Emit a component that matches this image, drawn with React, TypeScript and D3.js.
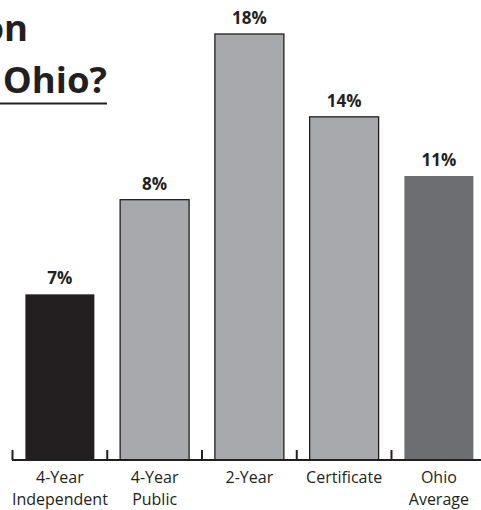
import React from 'react';
import * as d3 from 'd3';

// chart data
const categories = ['4-Year Independent', '4-Year Public', '2-Year', 'Certificate', 'Ohio Average'];
const categoryLines = [['4-Year', 'Independent'], ['4-Year', 'Public'], ['2-Year'], ['Certificate'], ['Ohio', 'Average']];
const barValues = [7, 11, 18, 14.5, 12];
const valueLabels = ['7%', '8%', '18%', '14%', '11%'];
const titleLines = ['on', 'Ohio?'];

const barFills = ['#231f20', '#a7a9ac', '#a7a9ac', '#a7a9ac', '#6d6e71'];
const outlined = [false, true, true, true, false];

const WIDTH = 481;
const HEIGHT = 510;
const BASE_Y = 460;
const INK = '#231f20';
const FONT = '"Open Sans", "DejaVu Sans", sans-serif';

export default function App() {
    const x = d3.scaleBand<string>()
        .domain(categories)
        .range([12.5, 486.25])
        .paddingInner(0.272)
        .paddingOuter(0.136);

    const y = d3.scaleLinear()
        .domain([0, 18])
        .range([BASE_Y, 34]);

    const half = (x.step() * x.paddingInner()) / 2;

    return (
        <svg
            width={WIDTH}
            height={HEIGHT}
            style={{ position: 'fixed', left: 0, top: 0, display: 'block', background: '#fff' }}
        >
            {/* title fragment, cut off on the left like the source */}
            <g fontFamily={FONT} fontWeight={700} fontSize={36.5} fill={INK}>
                <text x={28} y={41} textAnchor="end">{titleLines[0]}</text>
                <text x={107} y={93} textAnchor="end">{titleLines[1]}</text>
            </g>
            <rect x={0} y={102.5} width={107} height={2} fill={INK} />

            {/* bars */}
            {categories.map((c, i) => (
                <rect
                    key={c}
                    x={x(c)!}
                    y={y(barValues[i])}
                    width={x.bandwidth()}
                    height={BASE_Y - y(barValues[i])}
                    fill={barFills[i]}
                    stroke={outlined[i] ? INK : 'none'}
                    strokeWidth={1.3}
                />
            ))}

            {/* value labels */}
            {categories.map((c, i) => (
                <text
                    key={c}
                    x={x(c)! + x.bandwidth() / 2}
                    y={y(barValues[i]) - 10}
                    textAnchor="middle"
                    fontFamily={FONT}
                    fontWeight={700}
                    fontSize={17}
                    fill={INK}
                >
                    {valueLabels[i]}
                </text>
            ))}

            {/* baseline and separators */}
            <line x1={12} x2={WIDTH} y1={BASE_Y} y2={BASE_Y} stroke={INK} strokeWidth={2} />
            {categories.map(c => (
                <line
                    key={c}
                    x1={x(c)! - half}
                    x2={x(c)! - half}
                    y1={BASE_Y - 10}
                    y2={BASE_Y}
                    stroke={INK}
                    strokeWidth={2}
                />
            ))}

            {/* category labels */}
            {categories.map((c, i) => (
                <text
                    key={c}
                    x={x(c)! + x.bandwidth() / 2}
                    textAnchor="middle"
                    fontFamily={FONT}
                    fontSize={16}
                    fill={INK}
                >
                    {categoryLines[i].map((line, j) => (
                        <tspan key={j} x={x(c)! + x.bandwidth() / 2} y={483 + j * 22}>{line}</tspan>
                    ))}
                </text>
            ))}
        </svg>
    );
}
